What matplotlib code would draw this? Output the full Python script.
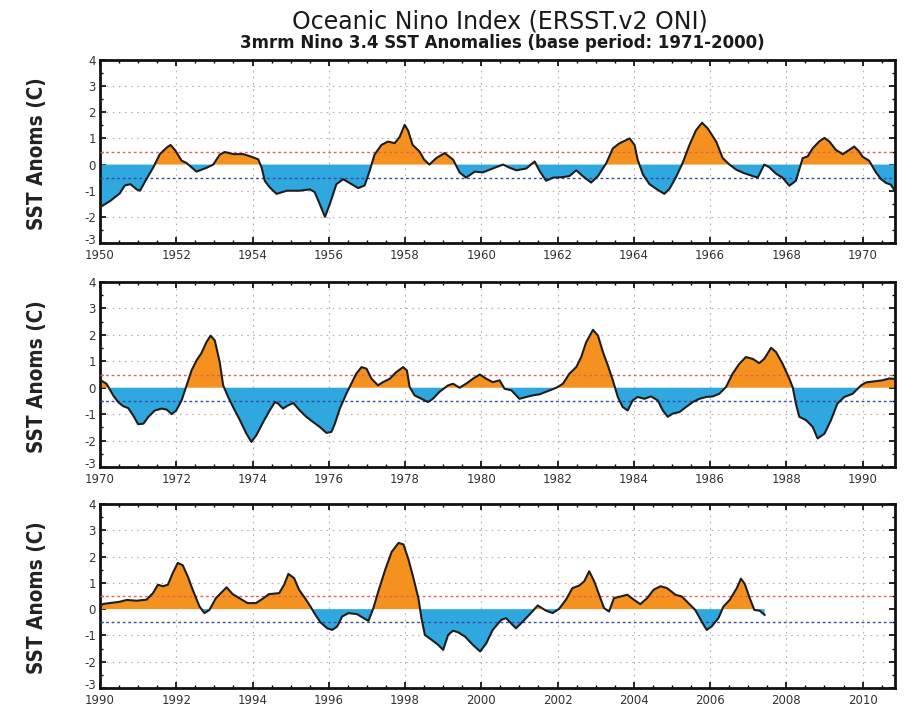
import numpy as np
import matplotlib
matplotlib.use("Agg")
import matplotlib.pyplot as plt
import matplotlib.transforms as mtransforms
from matplotlib.ticker import MultipleLocator
from matplotlib import font_manager as fm

# ---- data (fractional year, 3-month running mean anomaly in C)
years = [
    1950.00, 1950.26, 1950.52, 1950.65, 1950.80, 1950.96, 1951.05, 1951.20, 1951.40, 1951.57,
    1951.75, 1951.85, 1951.97, 1952.14, 1952.27, 1952.53, 1952.80, 1952.97, 1953.14, 1953.27,
    1953.50, 1953.76, 1953.97, 1954.15, 1954.24, 1954.32, 1954.45, 1954.63, 1954.90, 1955.24,
    1955.50, 1955.63, 1955.76, 1955.90, 1956.03, 1956.20, 1956.38, 1956.60, 1956.77, 1956.94,
    1957.07, 1957.20, 1957.38, 1957.55, 1957.73, 1957.86, 1957.99, 1958.08, 1958.20, 1958.38,
    1958.50, 1958.64, 1958.82, 1959.04, 1959.26, 1959.43, 1959.60, 1959.83, 1960.04, 1960.30,
    1960.57, 1960.74, 1960.92, 1961.18, 1961.40, 1961.53, 1961.70, 1961.88, 1962.14, 1962.31,
    1962.49, 1962.66, 1962.88, 1963.06, 1963.28, 1963.45, 1963.62, 1963.89, 1964.02, 1964.10,
    1964.24, 1964.41, 1964.63, 1964.80, 1964.93, 1965.10, 1965.28, 1965.46, 1965.63, 1965.79,
    1965.94, 1966.16, 1966.33, 1966.51, 1966.68, 1966.86, 1967.12, 1967.25, 1967.42, 1967.55,
    1967.73, 1967.90, 1968.08, 1968.25, 1968.43, 1968.56, 1968.69, 1968.86, 1969.00, 1969.13,
    1969.30, 1969.48, 1969.65, 1969.78, 1969.91, 1970.00, 1970.17, 1970.35, 1970.48, 1970.61,
    1970.74, 1970.87, 1971.00, 1971.14, 1971.27, 1971.44, 1971.62, 1971.75, 1971.88, 1972.00,
    1972.14, 1972.27, 1972.40, 1972.53, 1972.66, 1972.79, 1972.90, 1973.01, 1973.14, 1973.23,
    1973.36, 1973.49, 1973.67, 1973.84, 1973.97, 1974.10, 1974.28, 1974.45, 1974.59, 1974.67,
    1974.80, 1974.93, 1975.07, 1975.24, 1975.41, 1975.59, 1975.76, 1975.94, 1976.07, 1976.16,
    1976.29, 1976.46, 1976.59, 1976.72, 1976.86, 1976.99, 1977.12, 1977.29, 1977.42, 1977.60,
    1977.77, 1977.95, 1978.05, 1978.12, 1978.25, 1978.43, 1978.60, 1978.73, 1978.90, 1979.13,
    1979.26, 1979.43, 1979.60, 1979.78, 1979.96, 1980.13, 1980.30, 1980.48, 1980.61, 1980.79,
    1981.00, 1981.18, 1981.35, 1981.53, 1981.79, 1981.97, 1982.14, 1982.31, 1982.49, 1982.62,
    1982.75, 1982.93, 1983.06, 1983.19, 1983.32, 1983.45, 1983.58, 1983.71, 1983.84, 1983.97,
    1984.10, 1984.28, 1984.45, 1984.63, 1984.76, 1984.89, 1985.02, 1985.20, 1985.37, 1985.55,
    1985.72, 1985.90, 1986.07, 1986.24, 1986.42, 1986.59, 1986.77, 1986.94, 1987.12, 1987.29,
    1987.42, 1987.60, 1987.73, 1987.90, 1988.08, 1988.17, 1988.25, 1988.34, 1988.52, 1988.69,
    1988.82, 1989.00, 1989.17, 1989.34, 1989.52, 1989.74, 1989.96, 1990.09, 1990.30, 1990.52,
    1990.70, 1990.96, 1991.22, 1991.39, 1991.52, 1991.65, 1991.78, 1991.91, 1992.04, 1992.17,
    1992.30, 1992.43, 1992.61, 1992.74, 1992.87, 1993.04, 1993.22, 1993.32, 1993.48, 1993.65,
    1993.87, 1994.09, 1994.26, 1994.43, 1994.70, 1994.83, 1994.94, 1995.09, 1995.22, 1995.39,
    1995.52, 1995.65, 1995.78, 1995.96, 1996.09, 1996.22, 1996.35, 1996.52, 1996.74, 1996.91,
    1997.04, 1997.17, 1997.30, 1997.48, 1997.65, 1997.83, 1997.96, 1998.09, 1998.22, 1998.35,
    1998.43, 1998.52, 1998.70, 1998.87, 1999.00, 1999.13, 1999.26, 1999.39, 1999.57, 1999.78,
    1999.97, 2000.13, 2000.30, 2000.52, 2000.65, 2000.78, 2000.91, 2001.09, 2001.30, 2001.48,
    2001.70, 2001.87, 2002.04, 2002.22, 2002.39, 2002.57, 2002.70, 2002.83, 2002.96, 2003.09,
    2003.22, 2003.35, 2003.48, 2003.65, 2003.83, 2004.00, 2004.17, 2004.35, 2004.52, 2004.70,
    2004.87, 2005.09, 2005.26, 2005.43, 2005.61, 2005.78, 2005.91, 2006.04, 2006.22, 2006.35,
    2006.52, 2006.70, 2006.81, 2006.91, 2007.04, 2007.16, 2007.30, 2007.43,
]
anoms = [
    -1.63, -1.40, -1.10, -0.80, -0.75, -0.95, -1.00, -0.60, -0.10, 0.40,
    0.65, 0.75, 0.55, 0.15, 0.06, -0.27, -0.12, 0.00, 0.38, 0.48,
    0.40, 0.40, 0.30, 0.20, -0.12, -0.62, -0.87, -1.12, -1.00, -1.00,
    -0.95, -1.05, -1.50, -2.00, -1.50, -0.75, -0.56, -0.75, -0.90, -0.80,
    -0.25, 0.38, 0.75, 0.88, 0.82, 1.06, 1.52, 1.30, 0.75, 0.50,
    0.19, 0.00, 0.25, 0.44, 0.19, -0.30, -0.50, -0.27, -0.30, -0.15,
    0.00, -0.12, -0.22, -0.15, 0.12, -0.25, -0.62, -0.50, -0.48, -0.44,
    -0.22, -0.44, -0.69, -0.44, 0.06, 0.62, 0.81, 1.00, 0.75, 0.19,
    -0.38, -0.75, -0.97, -1.12, -0.94, -0.50, 0.06, 0.75, 1.31, 1.60,
    1.38, 0.88, 0.25, 0.00, -0.19, -0.31, -0.44, -0.50, 0.00, -0.10,
    -0.35, -0.50, -0.81, -0.62, 0.25, 0.31, 0.62, 0.88, 1.02, 0.88,
    0.56, 0.40, 0.56, 0.69, 0.50, 0.30, 0.15, -0.30, -0.55, -0.70,
    -0.77, -1.05, -1.38, -1.36, -1.10, -0.86, -0.79, -0.83, -1.00, -0.86,
    -0.48, 0.09, 0.65, 1.03, 1.31, 1.72, 1.97, 1.79, 0.97, 0.09,
    -0.35, -0.73, -1.23, -1.74, -2.05, -1.80, -1.30, -0.86, -0.54, -0.60,
    -0.79, -0.67, -0.58, -0.86, -1.10, -1.30, -1.48, -1.71, -1.67, -1.36,
    -0.79, -0.23, 0.15, 0.53, 0.78, 0.72, 0.34, 0.09, 0.21, 0.34,
    0.59, 0.78, 0.65, 0.03, -0.29, -0.42, -0.54, -0.42, -0.16, 0.09,
    0.15, 0.00, 0.15, 0.34, 0.50, 0.34, 0.21, 0.28, -0.04, -0.10,
    -0.42, -0.35, -0.29, -0.25, -0.10, 0.00, 0.15, 0.53, 0.78, 1.16,
    1.72, 2.19, 1.97, 1.35, 0.84, 0.28, -0.35, -0.73, -0.86, -0.48,
    -0.35, -0.42, -0.33, -0.48, -0.86, -1.10, -0.98, -0.92, -0.73, -0.54,
    -0.42, -0.35, -0.33, -0.23, 0.03, 0.53, 0.91, 1.16, 1.09, 0.93,
    1.09, 1.51, 1.35, 0.91, 0.34, 0.00, -0.60, -1.10, -1.23, -1.48,
    -1.92, -1.74, -1.23, -0.60, -0.35, -0.23, 0.09, 0.20, 0.24, 0.28,
    0.35, 0.32, 0.36, 0.61, 0.93, 0.87, 0.93, 1.38, 1.76, 1.67,
    1.25, 0.74, 0.10, -0.15, -0.03, 0.42, 0.68, 0.83, 0.57, 0.42,
    0.23, 0.23, 0.39, 0.57, 0.61, 0.93, 1.34, 1.18, 0.74, 0.39,
    0.10, -0.22, -0.50, -0.73, -0.79, -0.66, -0.28, -0.15, -0.19, -0.34,
    -0.45, 0.04, 0.68, 1.50, 2.18, 2.52, 2.46, 1.89, 1.18, 0.42,
    -0.34, -0.98, -1.17, -1.36, -1.55, -0.98, -0.82, -0.88, -1.04, -1.36,
    -1.61, -1.30, -0.79, -0.41, -0.34, -0.54, -0.73, -0.47, -0.15, 0.14,
    -0.06, -0.15, 0.01, 0.36, 0.80, 0.90, 1.06, 1.44, 1.06, 0.55,
    0.04, -0.09, 0.42, 0.48, 0.55, 0.36, 0.19, 0.42, 0.74, 0.87,
    0.80, 0.55, 0.48, 0.23, -0.03, -0.47, -0.79, -0.66, -0.34, 0.10,
    0.36, 0.80, 1.16, 0.96, 0.42, -0.03, -0.06, -0.22,
]

panel_starts = [1950, 1970, 1990]
panel_span = 20.85
xtick_step = 2
yticks = [-3, -2, -1, 0, 1, 2, 3, 4]
threshold = 0.5

title = "Oceanic Nino Index (ERSST.v2 ONI)"
subtitle = "3mrm Nino 3.4 SST Anomalies (base period: 1971-2000)"
ylabel = "SST Anoms (C)"

ORANGE = "#F5911E"
BLUE = "#2FA8DF"


def pick_narrow_font():
    """Prefer a condensed / narrow bold sans font if one is installed."""
    best = None
    for f in fm.fontManager.ttflist:
        name = f.name.lower()
        narrow = ("narrow" in name or "condensed" in name or
                  str(f.stretch) in ("condensed", "semi-condensed", "extra-condensed"))
        if not narrow or f.style != "normal":
            continue
        try:
            w = int(f.weight)
        except (TypeError, ValueError):
            w = 700 if "bold" in str(f.weight) else 400
        score = abs(w - 700)
        if best is None or score < best[0]:
            best = (score, f.fname)
    if best is not None:
        return fm.FontProperties(fname=best[1])
    return fm.FontProperties(family="Roboto", weight="bold")


label_font = pick_narrow_font()

t = np.array(years)
v = np.array(anoms)

fig = plt.figure(figsize=(9.13, 7.09), dpi=100)
fig.patch.set_facecolor("white")
renderer = fig.canvas.get_renderer()

W, H = 913.0, 709.0
boxes = [(100, 60, 895, 243), (100, 282, 895, 467), (100, 504, 895, 688)]
label_len_px = 153.0
lift = mtransforms.ScaledTranslation(0, 4 / 100.0, fig.dpi_scale_trans)

for (x0, y0, x1, y1), start in zip(boxes, panel_starts):
    ax = fig.add_axes([x0 / W, 1 - y1 / H, (x1 - x0) / W, (y1 - y0) / H])
    ax.fill_between(t, v, 0, where=v >= 0, interpolate=True, color=ORANGE, lw=0, zorder=2)
    ax.fill_between(t, v, 0, where=v <= 0, interpolate=True, color=BLUE, lw=0, zorder=2)
    ax.plot(t, v, color="#1E1E1E", lw=1.5, zorder=4, solid_joinstyle="round")
    ax.axhline(threshold, color="#E2625C", lw=1.0, ls=(0, (2, 2)), zorder=3)
    ax.axhline(-threshold, color="#3A4AA8", lw=1.0, ls=(0, (2, 2)), zorder=3)
    ax.set_xlim(start, start + panel_span)
    ax.set_ylim(-3, 4)
    xt = np.arange(start, start + panel_span + 0.01, xtick_step)
    ax.set_xticks(xt)
    ax.set_xticklabels([str(int(x)) for x in xt], fontsize=8.5, color="#333333")
    ax.set_yticks(yticks)
    ax.set_yticklabels([str(y) for y in yticks], fontsize=8.5, color="#333333")
    for y in yticks:
        if y != 0:
            ax.axhline(y, color="#C8A8A8", lw=0.8, ls=(0, (1.5, 4)), zorder=1)
    for x in xt:
        ax.axvline(x, color="#B0B0B0", lw=0.8, ls=(0, (1.5, 4)), zorder=1)
    ax.xaxis.set_minor_locator(MultipleLocator(0.5))
    ax.yaxis.set_minor_locator(MultipleLocator(0.5))
    ax.tick_params(which="major", direction="in", length=4, width=1.2, top=True, right=True)
    ax.tick_params(axis="x", which="major", pad=4)
    ax.tick_params(axis="y", which="major", pad=3)
    ax.tick_params(which="minor", direction="in", length=2, width=1.0, top=True, right=True)
    # lift the bottom y label a little so it clears the first year label
    bottom_lab = ax.yaxis.get_major_ticks()[0].label1
    bottom_lab.set_transform(bottom_lab.get_transform() + lift)
    for s in ax.spines.values():
        s.set_linewidth(2.0)
        s.set_color("#111111")
    lab = fig.text(37 / W, 1 - ((y0 + y1) / 2 + 2) / H, ylabel,
                   rotation=90, ha="center", va="center", fontproperties=label_font,
                   fontsize=16, color="#222222")
    ext = lab.get_window_extent(renderer=renderer)
    lab.set_fontsize(16 * label_len_px / ext.height)

fig.text(500 / W, 1 - 21 / H, title, ha="center", va="center", fontsize=17, color="#1A1A1A")
fig.text(502 / W, 1 - 43 / H, subtitle, ha="center", va="center", fontsize=12,
         fontweight="bold", color="#1A1A1A")

fig.savefig("out.png", dpi=100, facecolor="white")
